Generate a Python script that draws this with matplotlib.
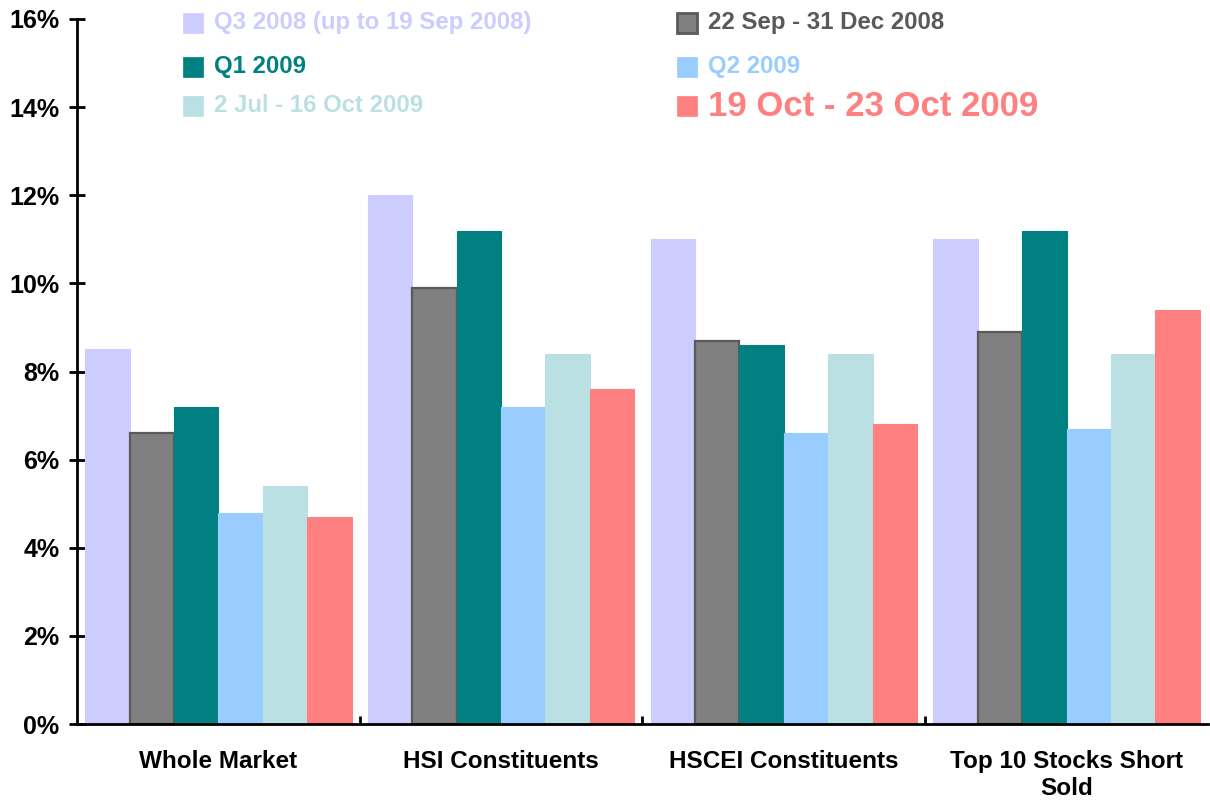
import numpy as np
import matplotlib
matplotlib.use("Agg")
import matplotlib.pyplot as plt
from matplotlib.patches import Rectangle

plt.rcParams['font.family'] = ['Liberation Sans', 'DejaVu Sans']
plt.rcParams['font.weight'] = 'bold'

categories = ["Whole Market", "HSI Constituents", "HSCEI Constituents",
              "Top 10 Stocks Short\nSold"]
series_names = ["Q3 2008 (up to 19 Sep 2008)", "22 Sep - 31 Dec 2008",
                "Q1 2009", "Q2 2009", "2 Jul - 16 Oct 2009",
                "19 Oct - 23 Oct 2009"]
q3_2008 = [8.5, 12.0, 11.0, 11.0]
sep_dec_2008 = [6.6, 9.9, 8.7, 8.9]
q1_2009 = [7.2, 11.2, 8.6, 11.2]
q2_2009 = [4.8, 7.2, 6.6, 6.7]
jul_oct_2009 = [5.4, 8.4, 8.4, 8.4]
oct_2009_week = [4.7, 7.6, 6.8, 9.4]
series_values = [q3_2008, sep_dec_2008, q1_2009, q2_2009, jul_oct_2009, oct_2009_week]

colors = ["#CCCCFF", "#808080", "#008080", "#99CCFF", "#BBE0E3", "#FF8080"]
edges = ["#CCCCFF", "#5A5A5A", "#008080", "#99CCFF", "#BBE0E3", "#FF8080"]
text_colors = ["#CCCCFF", "#595959", "#008080", "#99CCFF", "#BBE0E3", "#FF8080"]
text_sizes = [17.3, 17.3, 17.3, 17.3, 17.3, 25]

fig = plt.figure(figsize=(12.1, 8.05), dpi=100)
ax = fig.add_axes([0.0636, 0.1006, 0.9347, 0.8758])

x = np.arange(len(categories))
width = 0.157
for i, vals in enumerate(series_values):
    ax.bar(x + (i - 2.5) * width, vals, width, color=colors[i],
           edgecolor=edges[i], linewidth=1.6 if i == 1 else 0.8, zorder=2)

ax.set_xlim(-0.5, 3.5)
ax.set_ylim(0, 16)
ax.set_yticks(range(0, 17, 2))
ax.set_yticklabels([f"{v}%" for v in range(0, 17, 2)])
ax.set_xticks(x)
ax.set_xticklabels(categories)
ax.set_xticks([0.5, 1.5, 2.5], minor=True)
ax.tick_params(axis='x', which='major', length=0, pad=19, labelsize=17.5)
ax.tick_params(axis='x', which='minor', direction='in', length=6, width=2)
ax.tick_params(axis='y', direction='inout', length=11, width=2, pad=7, labelsize=18)
for s in ['top', 'right']:
    ax.spines[s].set_visible(False)
for s in ['left', 'bottom']:
    ax.spines[s].set_linewidth(2)

# legend laid out in two columns, three rows
col_x = [183, 677]
row_y = [23, 67, 106]
W, H = 1210, 805
for i, name in enumerate(series_names):
    cx = col_x[i % 2]
    cy = row_y[i // 2]
    fig.patches.append(Rectangle((cx / W, 1 - (cy + 10) / H), 20 / W, 20 / H,
                                 transform=fig.transFigure, facecolor=colors[i],
                                 edgecolor=edges[i], linewidth=2 if i == 1 else 0.5))
    fig.text((cx + 31) / W, 1 - cy / H, name, color=text_colors[i],
             fontsize=text_sizes[i], fontweight='bold', va='center', ha='left')

fig.savefig("out.png", dpi=100)
